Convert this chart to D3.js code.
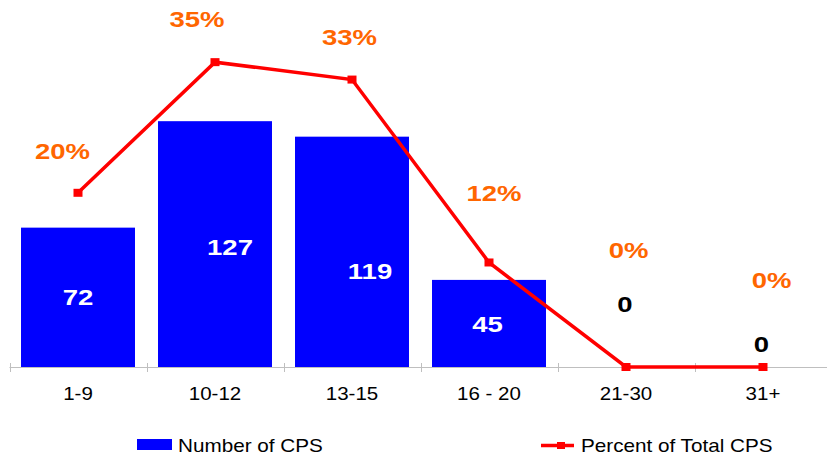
<!DOCTYPE html>
<html><head><meta charset="utf-8">
<script src="https://cdn.jsdelivr.net/npm/d3@7"></script>
<style>body{margin:0;background:#fff}svg{display:block}</style>
</head><body>
<svg id="c" width="827" height="457"></svg>
<script>
const categories = ["1-9", "10-12", "13-15", "16 - 20", "21-30", "31+"];
const countValues = [72, 127, 119, 45, 0, 0];
const percentValues = [0.20, 0.35, 0.33, 0.12, 0, 0];
const percentLabels = ["20%", "35%", "33%", "12%", "0%", "0%"];
const seriesNames = ["Number of CPS", "Percent of Total CPS"];
// manual label nudges (layout only)
const pctLabelNudge = [[-15.5, -42], [-18, -43.5], [-2.5, -42.5], [5, -69.5], [2.5, -117], [8.5, -87]];
const barLabelNudge = [[0, 0], [15, 3.5], [18, 19.5], [-1.5, 1], [-1, -62.5], [-1.5, -22.5]];

const svg = d3.select("#c");
const FONT = "Arial, 'Liberation Sans', sans-serif";
const baseY = 367, topY = 18.6;
const x = d3.scaleBand().domain(categories).range([9.5, 831.5]).paddingInner(0.168).paddingOuter(0.084);
const yL = d3.scaleLinear().domain([0, 180]).range([baseY, topY]);
const yR = d3.scaleLinear().domain([0, 0.40]).range([baseY, topY]);
const step = x.step();

function txt(g, cx, cy, s, size, weight, fill, sx) {
  return g.append("text")
    .attr("transform", `translate(${cx},${cy + 0.358 * size}) scale(${sx},1)`)
    .attr("text-anchor", "middle").attr("font-family", FONT)
    .attr("font-size", size).attr("font-weight", weight).attr("fill", fill).text(s);
}

// bars
svg.append("g").selectAll("rect").data(countValues).join("rect")
  .attr("x", (d, i) => x(categories[i])).attr("width", x.bandwidth())
  .attr("y", d => yL(d)).attr("height", d => baseY - yL(d)).attr("fill", "#0000FF");

// axis
const ax = svg.append("g");
ax.append("line").attr("x1", 9.5).attr("x2", 831.5).attr("y1", baseY + 0.5).attr("y2", baseY + 0.5)
  .attr("stroke", "#BFBFBF").attr("stroke-width", 1);
const bounds = categories.map(c => x(c) - (step - x.bandwidth()) / 2).concat([831.5]);
ax.selectAll("line.t").data(bounds).join("line").attr("class", "t")
  .attr("x1", d => Math.round(d) + 0.5).attr("x2", d => Math.round(d) + 0.5)
  .attr("y1", baseY - 4).attr("y2", baseY + 5).attr("stroke", "#BFBFBF");
categories.forEach(c => txt(ax, x(c) + x.bandwidth() / 2, 393.5, c, 18, "normal", "#000", 1.14));

// line
const cx = i => x(categories[i]) + x.bandwidth() / 2;
const line = d3.line().x((d, i) => cx(i)).y(d => yR(d));
svg.append("path").datum(percentValues).attr("d", line).attr("fill", "none")
  .attr("stroke", "#FF0000").attr("stroke-width", 3.5).attr("stroke-linejoin", "miter");
svg.append("g").selectAll("rect").data(percentValues).join("rect")
  .attr("x", (d, i) => cx(i) - 4.5).attr("y", d => yR(d) - 4).attr("width", 9).attr("height", 8).attr("fill", "#FF0000");

// labels
const lg = svg.append("g");
percentValues.forEach((d, i) => {
  txt(lg, cx(i) + pctLabelNudge[i][0], yR(d) + pctLabelNudge[i][1], percentLabels[i], 22, "bold", "#FF6600", 1.25);
});
countValues.forEach((d, i) => {
  const mid = (yL(d) + baseY) / 2;
  txt(lg, cx(i) + barLabelNudge[i][0], mid + barLabelNudge[i][1], String(d), 22, "bold", d > 0 ? "#FFFFFF" : "#000000", 1.25);
});

// legend
const leg = svg.append("g");
leg.append("rect").attr("x", 137).attr("y", 439).attr("width", 35).attr("height", 11).attr("fill", "#0000FF");
leg.append("text").attr("transform", "translate(178,451.5) scale(1.15,1)").attr("font-family", FONT)
  .attr("font-size", 18).attr("fill", "#000").text(seriesNames[0]);
leg.append("line").attr("x1", 541).attr("x2", 574).attr("y1", 445.5).attr("y2", 445.5).attr("stroke", "#FF0000").attr("stroke-width", 3.5);
leg.append("rect").attr("x", 557).attr("y", 442).attr("width", 8).attr("height", 7).attr("fill", "#FF0000");
leg.append("text").attr("transform", "translate(581,451.5) scale(1.15,1)").attr("font-family", FONT)
  .attr("font-size", 18).attr("fill", "#000").text(seriesNames[1]);
</script>
</body></html>
